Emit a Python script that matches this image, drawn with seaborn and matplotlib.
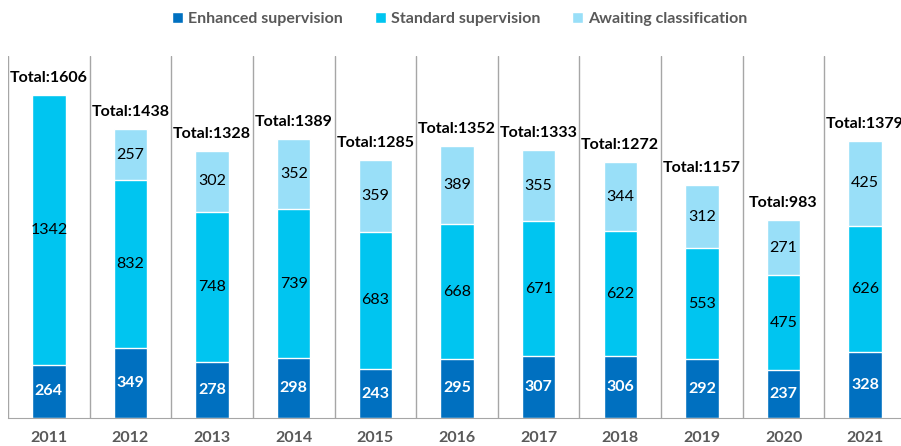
import pandas as pd
import matplotlib.pyplot as plt
import seaborn as sns

years = ['2011', '2012', '2013', '2014', '2015', '2016', '2017', '2018', '2019', '2020', '2021']
enhanced = [264, 349, 278, 298, 243, 295, 307, 306, 292, 237, 328]
standard = [1342, 832, 748, 739, 683, 668, 671, 622, 553, 475, 626]
awaiting = [0, 257, 302, 352, 359, 389, 355, 344, 312, 271, 425]
totals = [1606, 1438, 1328, 1389, 1285, 1352, 1333, 1272, 1157, 983, 1379]

series_names = ['Enhanced supervision', 'Standard supervision', 'Awaiting classification']
colors = ['#0070C0', '#00C5F0', '#99DFF8']

df = pd.DataFrame({'year': years, 'enhanced': enhanced, 'standard': standard, 'awaiting': awaiting})
df['top2'] = df['enhanced'] + df['standard']
df['top3'] = df['top2'] + df['awaiting']

sns.set_style("white")
plt.rcParams['font.family'] = ['Lato', 'DejaVu Sans']

fig = plt.figure(figsize=(9.01, 4.46), dpi=100)
ax = fig.add_axes([8 / 901, 28 / 446, 898 / 901, 362 / 446])

# overlapping bars = stacked look
sns.barplot(data=df, x='year', y='top3', color=colors[2], width=0.41, ax=ax,
            saturation=1, label=series_names[2])
sns.barplot(data=df, x='year', y='top2', color=colors[1], width=0.41, ax=ax,
            saturation=1, label=series_names[1])
sns.barplot(data=df, x='year', y='enhanced', color=colors[0], width=0.41, ax=ax,
            saturation=1, label=series_names[0])

for i in range(len(years)):
    e, s, a = enhanced[i], standard[i], awaiting[i]
    ax.text(i, e / 2, str(e), ha='center', va='center', color='white',
            fontsize=11.5, fontweight='bold')
    ax.text(i, e + s / 2, str(s), ha='center', va='center', color='black', fontsize=11.5)
    if a > 0:
        ax.text(i, e + s + a / 2, str(a), ha='center', va='center', color='black', fontsize=11.5)
    ax.text(i, totals[i] + 50, f'Total:{totals[i]}', ha='center', va='bottom',
            color='black', fontsize=11.5, fontweight='bold')

ax.set_xlim(-0.5, len(years) - 0.5)
ax.set_ylim(0, 1800)
ax.set_xlabel('')
ax.set_ylabel('')
ax.set_yticks([])
ax.tick_params(axis='x', length=0, pad=9)
for lbl in ax.get_xticklabels():
    lbl.set_fontweight('bold')
    lbl.set_color('#595959')
    lbl.set_fontsize(11.5)

for b in range(len(years)):
    ax.axvline(b - 0.5, color='#A6A6A6', lw=1, zorder=0)

for side in ['top', 'right', 'left']:
    ax.spines[side].set_visible(False)
ax.spines['bottom'].set_color('#A6A6A6')

handles, labels = ax.get_legend_handles_labels()
order = [2, 1, 0]
leg = fig.legend([handles[k] for k in order], [labels[k] for k in order],
                 loc='center', bbox_to_anchor=(0.51, 1 - 19 / 446), ncol=3,
                 frameon=False, handlelength=0.7, handleheight=0.7,
                 handletextpad=0.3, columnspacing=2.0,
                 prop={'weight': 'bold', 'size': 11.5})
for t in leg.get_texts():
    t.set_color('#595959')
if ax.get_legend() is not None:
    ax.get_legend().remove()

fig.savefig('out.png', dpi=100)
